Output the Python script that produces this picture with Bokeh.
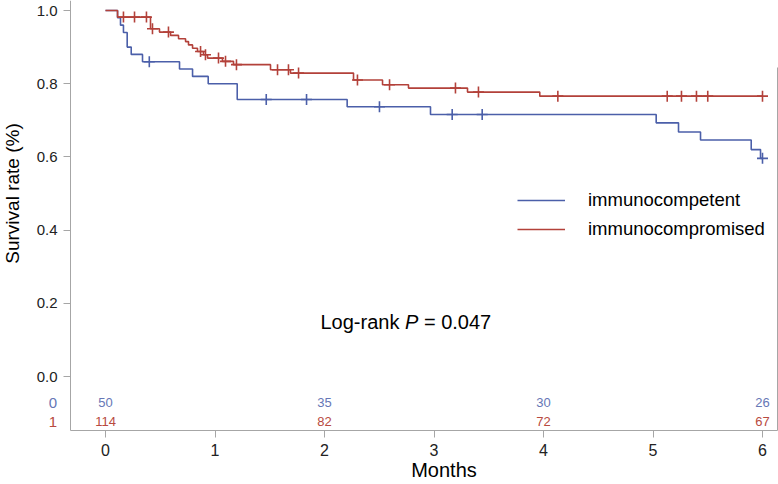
import numpy as np
from bokeh.plotting import figure
from bokeh.models import (Range1d, FixedTicker, PrintfTickFormatter, LinearAxis, Label,
                          Legend, LegendItem, ColumnDataSource)
from bokeh.core.properties import value
from bokeh.embed import file_html
from bokeh.resources import INLINE

# ---------------- data ----------------
comp_t = [0, 0.11, 0.137, 0.164, 0.198, 0.235, 0.338, 0.676, 0.795, 0.938, 1.203,
          2.207, 2.968, 5.029, 5.233, 5.434, 5.897, 5.982, 6.0]
comp_s = [1.0, 0.98, 0.96, 0.94, 0.90, 0.88, 0.86, 0.84, 0.82, 0.80, 0.757,
          0.737, 0.716, 0.693, 0.668, 0.646, 0.620, 0.596, 0.596]
comp_cens = [0.40, 1.468, 1.836, 2.502, 3.166, 3.440, 6.0]

prom_t = [0, 0.11, 0.411, 0.493, 0.594, 0.667, 0.731, 0.758, 0.795, 0.840, 0.895,
          0.932, 1.068, 1.169, 1.507, 1.689, 2.265, 2.53, 2.767, 3.306, 3.966, 6.0]
prom_s = [1.0, 0.982, 0.950, 0.941, 0.932, 0.923, 0.915, 0.906, 0.897, 0.888, 0.879,
          0.870, 0.861, 0.852, 0.838, 0.829, 0.810, 0.797, 0.788, 0.777, 0.766, 0.766]
prom_cens = [0.164, 0.265, 0.374, 0.429, 0.575, 0.868, 0.913, 1.032, 1.096, 1.196,
             1.571, 1.671, 1.763, 2.301, 2.594, 3.196, 3.406, 4.131, 5.130, 5.260,
             5.397, 5.500, 6.0]

risk_t = [0, 2, 4, 6]
comp_risk = [50, 35, 30, 26]
prom_risk = [114, 82, 72, 67]

group_names = ["immunocompetent", "immunocompromised"]
group_codes = ["0", "1"]
x_ticks = [0, 1, 2, 3, 4, 5, 6]
y_ticks = [0.0, 0.2, 0.4, 0.6, 0.8, 1.0]

# ---------------- style / layout ----------------
FONT = "Liberation Sans"
BLUE = "#4b5fa9"
RED = "#b3413a"
BLUE_T = "#6677b6"
RED_T = "#b84a40"
GRAY = "#a6a6a6"
TXT = "#222222"

W, H = 778, 484
PX0, PXU = 105.0, 109.5     # pixel of x=0, pixels per month
PY0, PYU = 376.0, 366.0     # pixel of y=0, pixels per unit


def dx(px):
    return (px - PX0) / PXU


def dy(py):
    return (PY0 - py) / PYU


X_LO, X_HI = dx(0), dx(W)
Y_LO, Y_HI = dy(H), dy(0)
X_AX, Y_AX = dx(70), dy(430)
X_R = dx(776.5)
ROW_Y = [dy(402), dy(421)]


def censor_y(t, s, c):
    t = np.asarray(t)
    s = np.asarray(s)
    idx = np.searchsorted(t, np.asarray(c), side="right") - 1
    return s[idx]


p = figure(width=W, height=H, output_backend="svg", toolbar_location=None,
           x_range=Range1d(X_LO, X_HI), y_range=Range1d(Y_LO, Y_HI),
           x_axis_location=None, y_axis_location=None, min_border=0)
p.outline_line_color = None
p.xgrid.visible = False
p.ygrid.visible = False
p.background_fill_color = "white"
p.border_fill_color = "white"


def style_axis(ax, size):
    ax.axis_line_color = GRAY
    ax.major_tick_line_color = GRAY
    ax.minor_tick_line_color = None
    ax.major_tick_out = 7
    ax.major_tick_in = 0
    ax.major_label_text_font = FONT
    ax.major_label_text_color = TXT
    ax.major_label_standoff = 6
    ax.major_label_text_font_size = size


xax = LinearAxis(ticker=FixedTicker(ticks=x_ticks), fixed_location=Y_AX, bounds=(X_AX, X_R))
style_axis(xax, "16px")
p.add_layout(xax, "below")

yax = LinearAxis(ticker=FixedTicker(ticks=y_ticks), formatter=PrintfTickFormatter(format="%.1f"),
                 fixed_location=X_AX, bounds=(Y_AX, Y_HI))
style_axis(yax, "15px")
p.add_layout(yax, "left")

rax = LinearAxis(ticker=FixedTicker(ticks=[]), fixed_location=X_R, bounds=(Y_AX, dy(67)),
                 major_label_text_font_size="0px", major_tick_out=0, major_tick_in=0,
                 minor_tick_out=0, minor_tick_in=0, axis_line_color=GRAY)
p.add_layout(rax, "right")

# curves
r1 = p.step(comp_t, comp_s, mode="after", line_color=BLUE, line_width=1.6)
r2 = p.step(prom_t, prom_s, mode="after", line_color=RED, line_width=1.6)
p.scatter(comp_cens, censor_y(comp_t, comp_s, comp_cens), marker="cross", size=11,
          line_color=BLUE, line_width=1.6)
p.scatter(prom_cens, censor_y(prom_t, prom_s, prom_cens), marker="cross", size=11,
          line_color=RED, line_width=1.6)

# at-risk table
src0 = ColumnDataSource(dict(x=risk_t, y=[ROW_Y[0]] * len(risk_t), t=[str(v) for v in comp_risk]))
src1 = ColumnDataSource(dict(x=risk_t, y=[ROW_Y[1]] * len(risk_t), t=[str(v) for v in prom_risk]))
p.text(x="x", y="y", text="t", source=src0, text_font=value(FONT), text_font_size="13px",
       text_color=BLUE_T, text_align="center", text_baseline="middle")
p.text(x="x", y="y", text="t", source=src1, text_font=value(FONT), text_font_size="13px",
       text_color=RED_T, text_align="center", text_baseline="middle")
srcc = ColumnDataSource(dict(x=[dx(52.5)] * 2, y=ROW_Y, t=group_codes, c=[BLUE_T, RED_T]))
p.text(x="x", y="y", text="t", source=srcc, text_font=value(FONT), text_font_size="15px",
       text_color="c", text_align="center", text_baseline="middle")

# axis titles
p.add_layout(Label(x=dx(12), y=0.5, text="Survival rate (%)", angle=np.pi / 2,
                   text_font=FONT, text_font_size="19px", text_color="black",
                   text_align="center", text_baseline="middle"))
p.add_layout(Label(x=dx(443.5), y=dy(469), text="Months", text_font=FONT, text_font_size="20px",
                   text_color="black", text_align="center", text_baseline="middle"))

# log-rank annotation
LX, LY = dx(320), dy(321)
p.add_layout(Label(x=LX, y=LY, text="Log-rank", text_font=FONT, text_font_size="20px",
                   text_color="black", text_align="left", text_baseline="middle"))
p.add_layout(Label(x=LX, y=LY, x_offset=84.5, text="P", text_font=FONT, text_font_size="20px",
                   text_font_style="italic", text_color="black", text_align="left",
                   text_baseline="middle"))
p.add_layout(Label(x=LX, y=LY, x_offset=103.4, text="= 0.047", text_font=FONT,
                   text_font_size="20px", text_color="black", text_align="left",
                   text_baseline="middle"))

# legend
legend = Legend(items=[LegendItem(label=group_names[0], renderers=[r1]),
                       LegendItem(label=group_names[1], renderers=[r2])],
                location=(517, H - 240), glyph_width=48, glyph_height=20, label_height=20,
                spacing=7, padding=0, margin=0, label_standoff=23,
                border_line_color=None, background_fill_alpha=0,
                label_text_font=FONT, label_text_font_size="18.5px", label_text_color="black")
p.add_layout(legend)

open("out.html", "w").write(file_html(p, INLINE))
